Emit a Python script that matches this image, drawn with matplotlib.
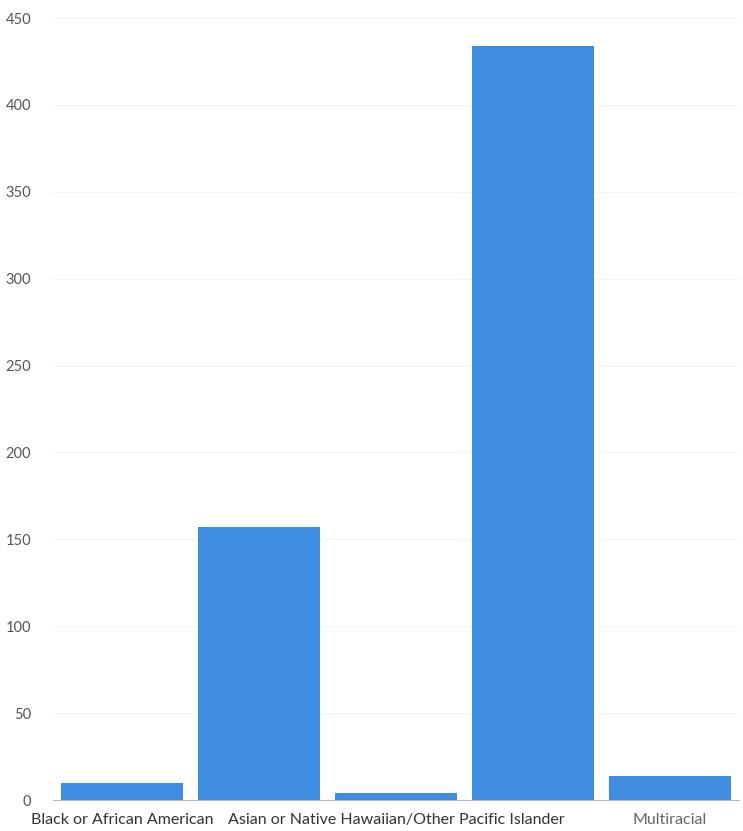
import matplotlib
matplotlib.use("Agg")
import matplotlib.pyplot as plt
import numpy as np

# Werte
categories = ["Black or African American", "",
              "Asian or Native Hawaiian/Other Pacific Islander", "",
              "Multiracial"]
counts = [10, 157, 4, 434, 14]
y_ticks = [0, 50, 100, 150, 200, 250, 300, 350, 400, 450]

plt.rcParams["font.family"] = ["Lato", "DejaVu Sans"]

fig = plt.figure(figsize=(7.43, 8.31), dpi=100)
ax = fig.add_axes([0.072, 0.0373, 0.922, 0.941])

x = np.arange(len(counts))
ax.bar(x, counts, width=0.89, color="#3e8de0", zorder=3)

ax.set_xlim(-0.5, len(counts) - 0.5)
ax.set_ylim(0, 450)
ax.set_yticks(y_ticks)
ax.set_yticklabels([str(v) for v in y_ticks], fontsize=10.5, color="#555555")
ax.set_xticks(x)
ax.set_xticklabels(categories, fontsize=11.5, color="#333333")
ax.get_xticklabels()[-1].set_color("#666666")

ax.grid(axis="y", color="#f3f3f3", lw=0.8, zorder=0)
for s in ["top", "right", "left"]:
    ax.spines[s].set_visible(False)
ax.spines["bottom"].set_color("#bbbbbb")
ax.tick_params(axis="y", length=0, pad=16)
ax.tick_params(axis="x", length=0, pad=9)

fig.savefig("out.png", dpi=100)
